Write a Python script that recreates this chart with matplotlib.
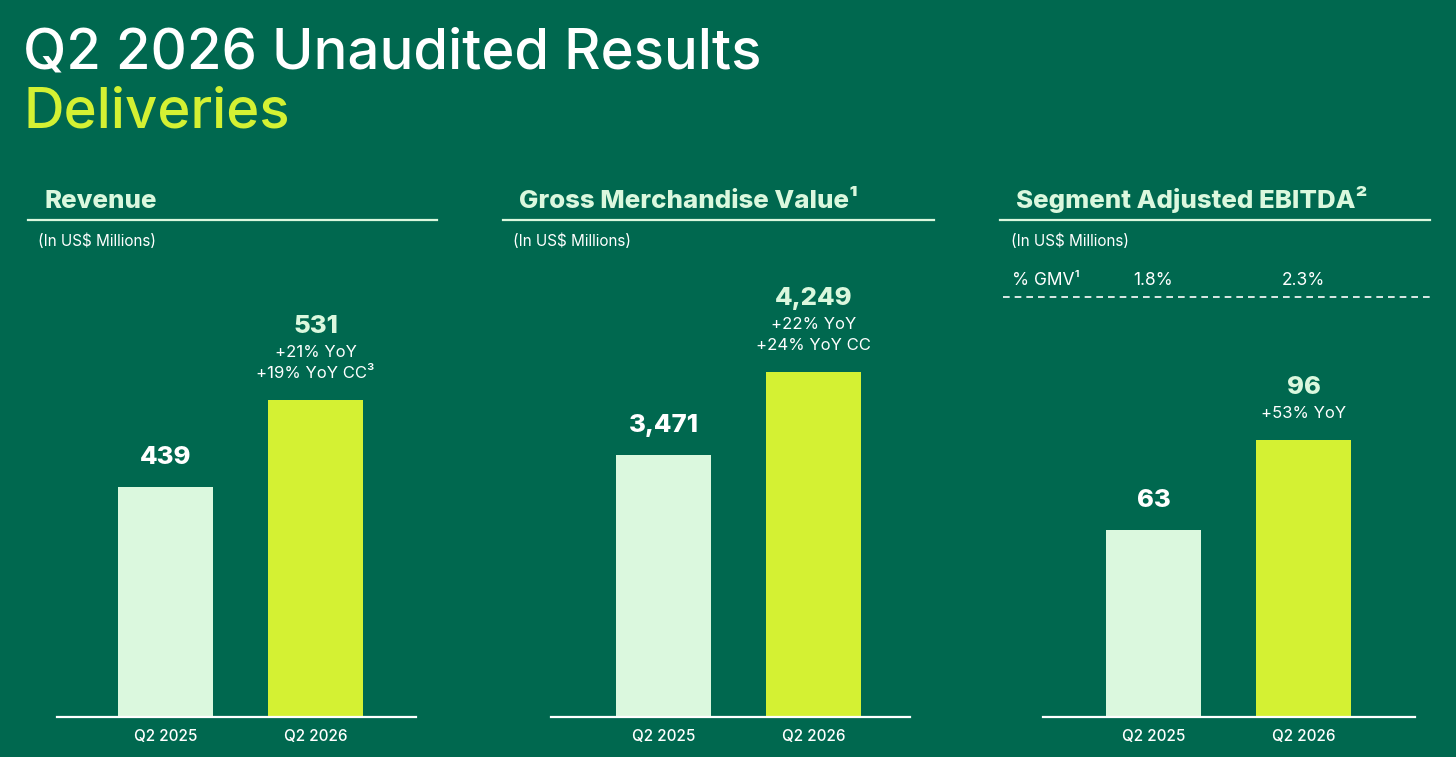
import matplotlib
matplotlib.use("Agg")
import matplotlib.pyplot as plt
from matplotlib.lines import Line2D

plt.rcParams['font.family'] = ['Inter', 'DejaVu Sans']

# ---------------- data ----------------
categories = ["Q2 2025", "Q2 2026"]
panel_titles = ["Revenue", "Gross Merchandise Value\u00b9", "Segment Adjusted EBITDA\u00b2"]
units_label = "(In US$ Millions)"
revenue = [439, 531]
gmv = [3471, 4249]
ebitda = [63, 96]
revenue_labels = ["439", "531"]
gmv_labels = ["3,471", "4,249"]
ebitda_labels = ["63", "96"]
revenue_growth = [[], ["+21% YoY", "+19% YoY CC\u00b3"]]
gmv_growth = [[], ["+22% YoY", "+24% YoY CC"]]
ebitda_growth = [[], ["+53% YoY"]]
ebitda_pct_gmv = ["1.8%", "2.3%"]
pct_gmv_label = "% GMV\u00b9"
title = "Q2 2026 Unaudited Results"
subtitle = "Deliveries"

# ---------------- style ----------------
BG = "#00684F"
LIGHT = "#DBF8DE"
LIME = "#D4F133"
WHITE = "#FFFFFF"
W, H = 1456, 757
DPI = 100

fig = plt.figure(figsize=(W / DPI, H / DPI), dpi=DPI, facecolor=BG)


def fx(x):
    return x / W


def fy(y):
    return 1 - y / H


def ftext(x, y, s, **kw):
    fig.text(fx(x), fy(y), s, **kw)


def hline(x0, x1, y, **kw):
    fig.add_artist(Line2D([fx(x0), fx(x1)], [fy(y), fy(y)], transform=fig.transFigure, **kw))


# title
ftext(23, 68, title, color=WHITE, fontsize=40.5, va='baseline', ha='left', fontweight='medium')
ftext(23, 127, subtitle, color=LIME, fontsize=40.5, va='baseline', ha='left', fontweight='medium')

# panel geometry (pixels)
panels = [
    dict(vals=revenue, labels=revenue_labels, growth=revenue_growth, title=panel_titles[0],
         head_x=44, line=(28, 437), unit_x=38, ax=(57, 416), c0=165.5, ylim=(196, 690)),
    dict(vals=gmv, labels=gmv_labels, growth=gmv_growth, title=panel_titles[1],
         head_x=519, line=(503, 934), unit_x=513, ax=(551, 910), c0=663.5, ylim=(1015, 5392)),
    dict(vals=ebitda, labels=ebitda_labels, growth=ebitda_growth, title=panel_titles[2],
         head_x=1016, line=(1000, 1430), unit_x=1011, ax=(1043, 1415), c0=1153.5, ylim=(-5.6, 165.6)),
]

AX_TOP, AX_BOT = 250, 717
SPACING = 150.0
BAR_W = 95.0 / SPACING

for p in panels:
    x0, x1 = p['ax']
    ax = fig.add_axes([fx(x0), fy(AX_BOT), (x1 - x0) / W, (AX_BOT - AX_TOP) / H])
    ax.set_facecolor('none')
    ax.set_xlim((x0 - p['c0']) / SPACING, (x1 - p['c0']) / SPACING)
    b = p['ylim'][0]
    ax.set_ylim(*p['ylim'])
    xs = list(range(len(categories)))
    ax.bar(xs, [v - b for v in p['vals']], width=BAR_W, color=[LIGHT, LIME], bottom=b, zorder=2)
    for s in ['top', 'right', 'left']:
        ax.spines[s].set_visible(False)
    ax.spines['bottom'].set_color(WHITE)
    ax.spines['bottom'].set_linewidth(1.6)
    ax.spines['bottom'].set_zorder(3)
    ax.set_yticks([])
    ax.set_xticks(xs)
    ax.set_xticklabels(categories, color=WHITE, fontsize=11, fontweight='medium')
    ax.tick_params(axis='x', length=0, pad=9)

    # value annotations
    for i, v in enumerate(p['vals']):
        lines = p['growth'][i]
        off = 22  # px above bar for last line baseline
        for j, s in enumerate(reversed(lines)):
            ax.annotate(s, xy=(i, v), xytext=(0, (off + 21 * j) * 0.72), textcoords='offset points',
                        ha='center', va='baseline', color=WHITE, fontsize=12)
        if lines:
            top_off = off + 21 * (len(lines) - 1) + 24
        else:
            top_off = 23
        ax.annotate(p['labels'][i], xy=(i, v), xytext=(0, top_off * 0.72), textcoords='offset points',
                    ha='center', va='baseline', color=WHITE if i == 0 else LIGHT,
                    fontsize=18.5, fontweight='heavy')

    # header
    ftext(p['head_x'], 208, p['title'], color=LIGHT, fontsize=18.6, fontweight='heavy', va='baseline')
    hline(p['line'][0], p['line'][1], 220, color=LIGHT, lw=1.6)
    ftext(p['unit_x'], 246, units_label, color=WHITE, fontsize=11, va='baseline')

    if p is panels[2]:
        ftext(1012, 285, pct_gmv_label, color=WHITE, fontsize=12.5, va='baseline')
        for i, s in enumerate(ebitda_pct_gmv):
            cx = p['c0'] + SPACING * i
            ftext(cx, 285, s, color=WHITE, fontsize=12.5, va='baseline', ha='center')
        hline(1003, 1430, 297, color=WHITE, lw=1.2, ls=(0, (4, 3)))

fig.savefig("out.png", dpi=DPI, facecolor=BG)
